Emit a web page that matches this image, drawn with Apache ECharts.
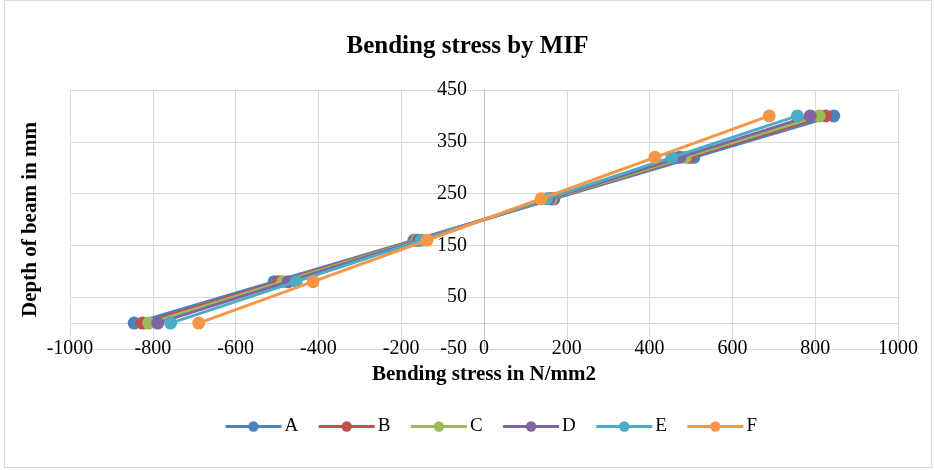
<!DOCTYPE html>
<html>
<head>
<meta charset="utf-8">
<script src="https://cdn.jsdelivr.net/npm/echarts@6/dist/echarts.min.js"></script>
<style>
html,body{margin:0;padding:0;background:#fff;}
#wrap{position:absolute;left:4px;top:0px;width:928px;height:468px;border:1px solid #d9d9d9;box-sizing:border-box;}
#chart{position:absolute;left:0;top:0;width:935px;height:470px;}
</style>
</head>
<body>
<div id="wrap"></div>
<div id="chart"></div>
<script>
const depths = [0, 80, 160, 240, 320, 400];
const seriesNames = ['A', 'B', 'C', 'D', 'E', 'F'];
const stressA = [-845, -507, -169, 169, 507, 845];
const stressB = [-825, -495, -165, 165, 495, 825];
const stressC = [-810, -486, -162, 162, 486, 810];
const stressD = [-788, -473, -158, 158, 473, 788];
const stressE = [-757, -454, -151, 151, 454, 757];
const stressF = [-689, -413, -138, 138, 413, 689];
const colors = ['#4F81BD', '#C0504D', '#9BBB59', '#8064A2', '#4BACC6', '#F79646'];
const allStress = [stressA, stressB, stressC, stressD, stressE, stressF];

const serif = '"Liberation Serif", "Times New Roman", serif';
const g = '#d9d9d9', t = 'rgba(0,0,0,0)';

const chart = echarts.init(document.getElementById('chart'));
chart.setOption({
  animation: false,
  color: colors,
  title: {
    text: 'Bending stress by MIF',
    left: 'center', top: 29,
    textStyle: { fontFamily: serif, fontSize: 25, fontWeight: 'bold', color: '#000' }
  },
  grid: { left: 70, right: 37, top: 90, bottom: 121, outerBoundsMode: 'none', containLabel: false },
  legend: {
    top: 412, left: 219,
    itemWidth: 56, itemHeight: 13, itemGap: 19,
    lineStyle: { width: 3 },
    textStyle: { fontFamily: serif, fontSize: 19, color: '#000', padding: [0, 0, 0, -2] },
    data: seriesNames
  },
  xAxis: {
    type: 'value', min: -1000, max: 1000, interval: 200,
    name: 'Bending stress in N/mm2', nameLocation: 'middle', nameGap: 15,
    nameTextStyle: { fontFamily: serif, fontSize: 21, fontWeight: 'bold', color: '#000' },
    axisLine: { onZero: false, show: false },
    axisTick: { show: false },
    axisLabel: { fontFamily: serif, fontSize: 20, color: '#000', margin: -10,
      formatter: function (v) { return String(v); } },
    splitLine: { show: true, lineStyle: { color: g, width: 1 } }
  },
  yAxis: {
    type: 'value', min: -50, max: 450, interval: 50,
    offset: -414,
    name: 'Depth of beam in mm', nameLocation: 'middle', nameGap: 443,
    nameTextStyle: { fontFamily: serif, fontSize: 21, fontWeight: 'bold', color: '#000' },
    axisLine: { onZero: false, show: true, lineStyle: { color: '#bfbfbf', width: 1 } },
    axisTick: { show: false },
    axisLabel: {
      fontFamily: serif, fontSize: 20, color: '#000', margin: 17,
      formatter: function (v) { return (Math.abs(v) % 100 === 50) ? String(v) : ''; }
    },
    splitLine: { show: true, lineStyle: { color: [g, g, g, t, g, t, g, t, g, t, g], width: 1 } }
  },
  series: seriesNames.map(function (name, i) {
    return {
      name: name, type: 'line',
      data: depths.map(function (d, j) { return [allStress[i][j], d]; }),
      symbol: 'circle', symbolSize: 13,
      lineStyle: { width: 3, color: colors[i] },
      itemStyle: { color: colors[i] },
      z: 2 + i
    };
  })
});
</script>
</body>
</html>
